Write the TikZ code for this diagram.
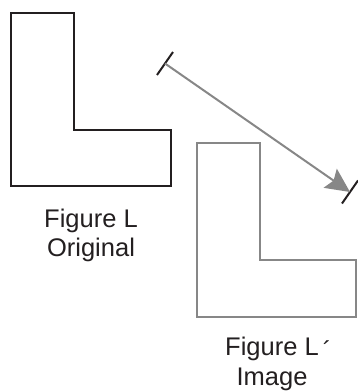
\documentclass[tikz,border=0pt]{standalone}
\usepackage{fontspec}
\setmainfont{Liberation Sans}
\usetikzlibrary{arrows.meta}
\definecolor{lgray}{RGB}{135,135,135}
\definecolor{dblack}{RGB}{35,31,32}
\begin{document}
\begin{tikzpicture}[x=1pt,y=-1pt,line join=miter,
  orig/.style={draw=dblack,line width=2pt},
  img/.style={draw=lgray,line width=2pt},
  lbl/.style={font=\fontsize{25.5}{29.5}\selectfont,align=center,inner sep=0pt,text=dblack},
  tickmark/.style={draw=dblack,line width=2pt}]
\useasboundingbox (0,0) rectangle (357,391);
% original figure
\draw[orig] (11,13) -- (74,13) -- (74,130) -- (171,130) -- (171,186) -- (11,186) -- cycle;
% image figure
\draw[img] (197,143) -- (260,143) -- (260,260) -- (356,260) -- (356,317) -- (197,317) -- cycle;
% translation vector
\coordinate (A) at (165,63.5);
\coordinate (B) at (350,192);
\draw[tickmark] (A) ++(-8,11.5) -- ++(16,-23);
\draw[tickmark] (B) ++(-8,11.5) -- ++(16,-23);
\draw[img,-{Stealth[length=24pt,width=23pt,inset=4pt]}] (A) -- (B);
% labels
\node[lbl,anchor=north] (lo) at (91,208.5) {Figure L\\Original};
\node[lbl,anchor=north] (li) at (272,337) {Figure L\rlap{\hspace{4pt}\raisebox{-4pt}{´}}\\Image};
\end{tikzpicture}
\end{document}
